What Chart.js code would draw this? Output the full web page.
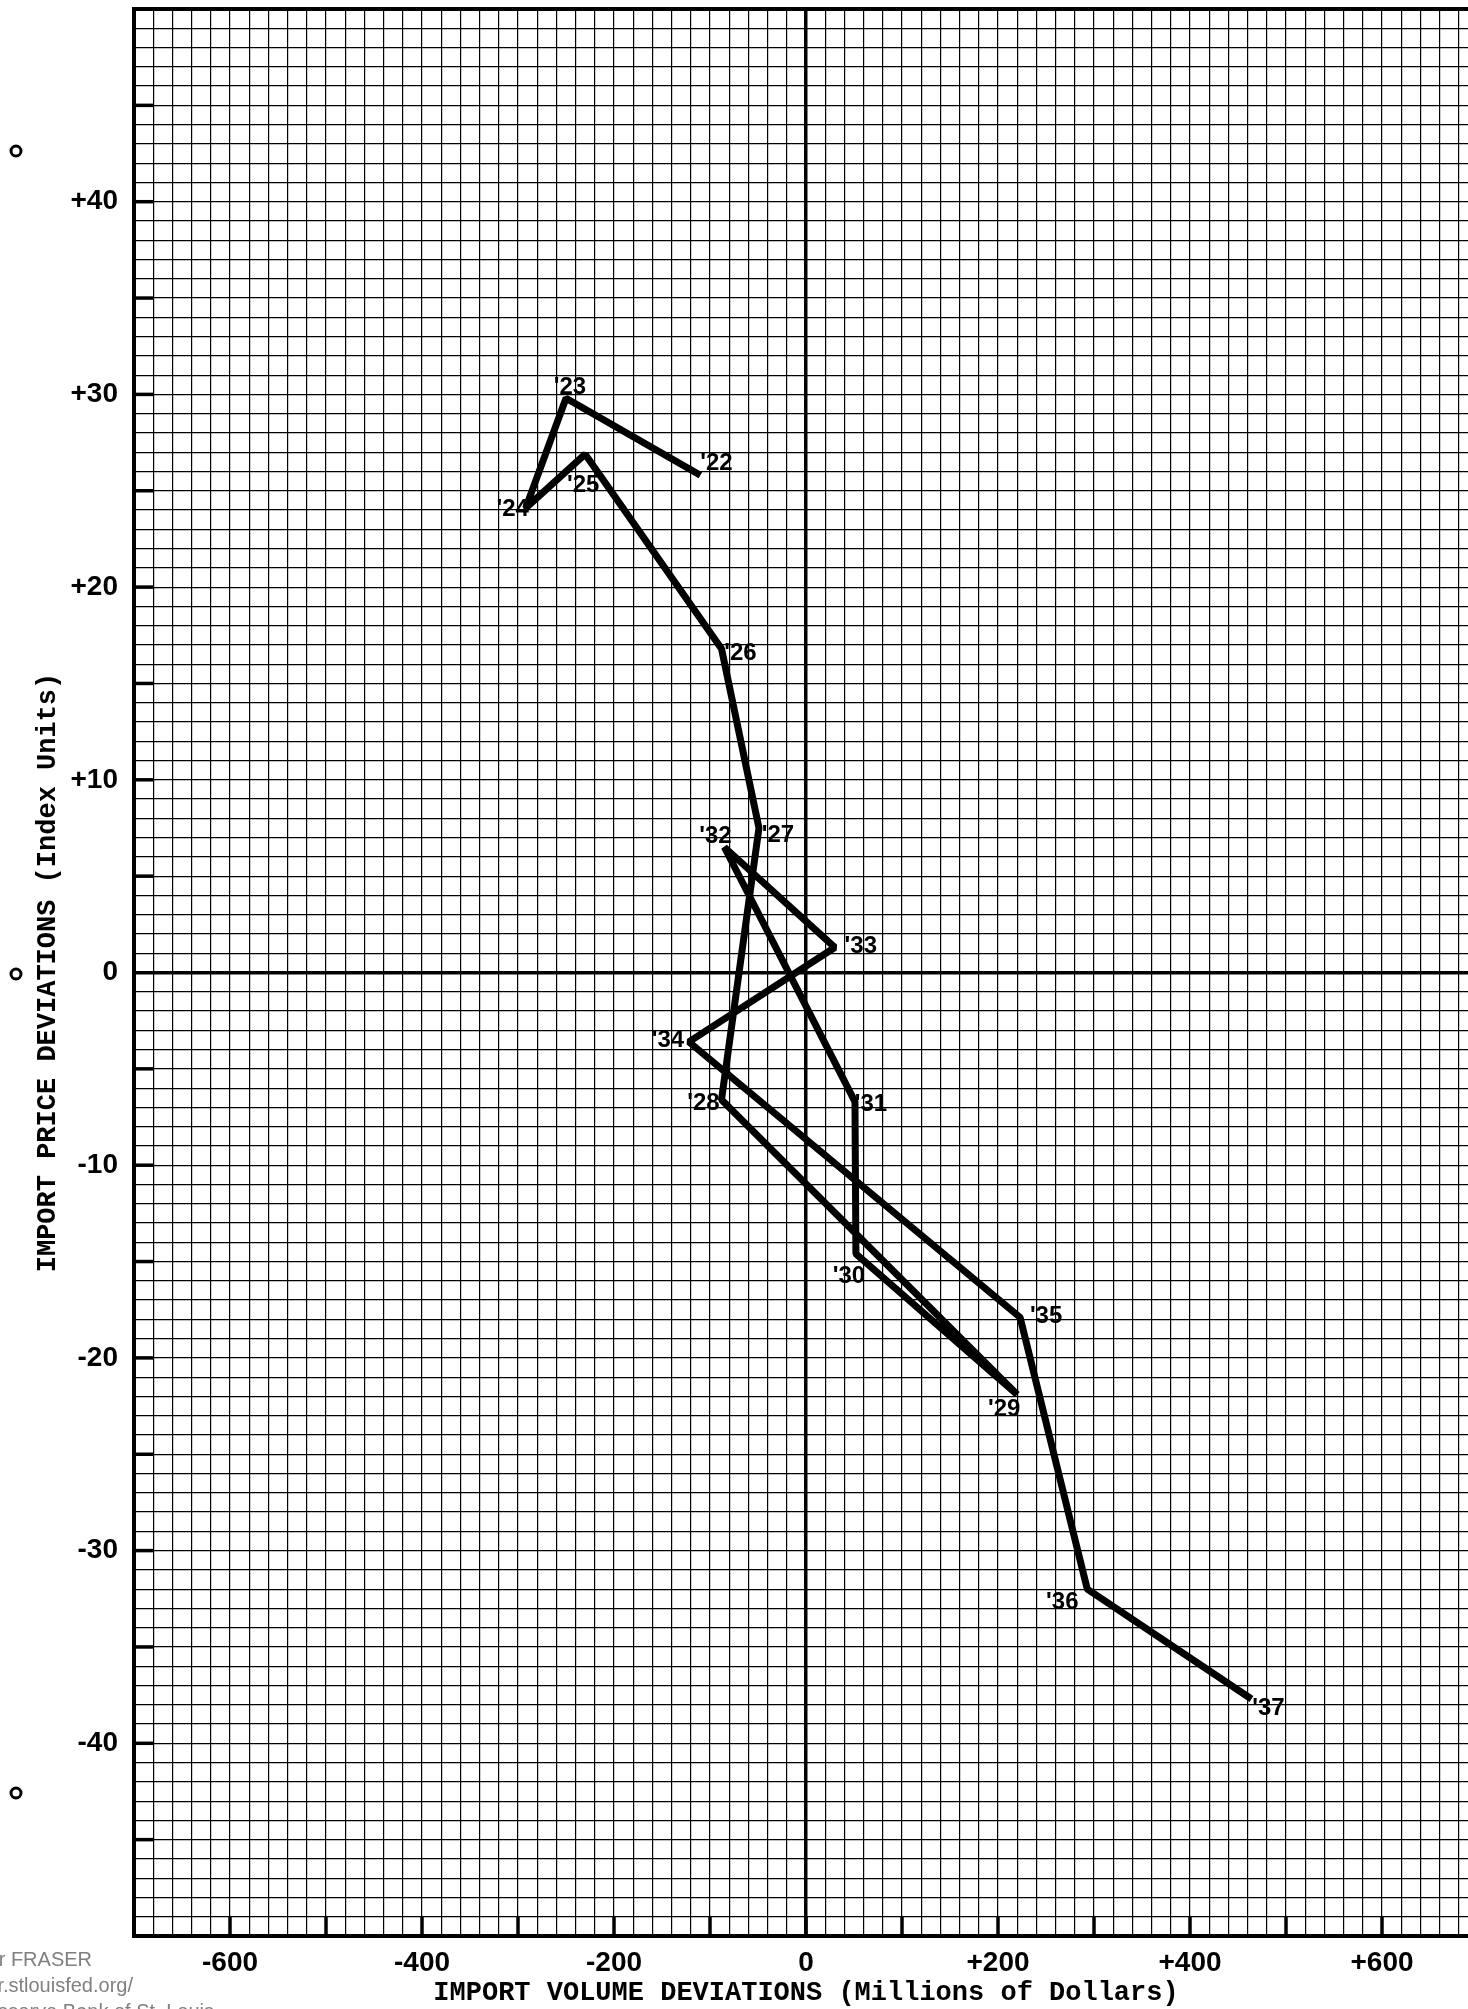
<!DOCTYPE html>
<html>
<head>
<meta charset="utf-8">
<script src="https://cdn.jsdelivr.net/npm/chart.js@4.4.0/dist/chart.umd.min.js"></script>
<style>
  html, body { margin: 0; padding: 0; background: #fff; overflow: hidden; }
  #wrap { width: 1480px; height: 2009px; }
</style>
</head>
<body>
<div id="wrap"><canvas id="chart_importDeviations" width="1480" height="2009"></canvas></div>
<script>
var years = ["'22", "'23", "'24", "'25", "'26", "'27", "'28", "'29", "'30", "'31", "'32", "'33", "'34", "'35", "'36", "'37"];
var volumeDeviations = [-110, -250, -292, -230, -88, -49, -88, 220, 52, 51, -85, 30, -122, 223, 293, 464];
var priceDeviations = [25.8, 29.8, 24.1, 26.9, 16.8, 7.5, -6.6, -21.9, -14.6, -6.7, 6.5, 1.3, -3.6, -17.9, -32.0, -37.7];

var xTickValues = [-600, -400, -200, 0, 200, 400, 600];
var xTickLabels = ['-600', '-400', '-200', '0', '+200', '+400', '+600'];
var yTickValues = [40, 30, 20, 10, 0, -10, -20, -30, -40];
var yTickLabels = ['+40', '+30', '+20', '+10', '0', '-10', '-20', '-30', '-40'];

// where each year label sits relative to its point, in px
var labelOffsets = [[16, -12], [4, -11], [-13, 1], [-2, 31], [19, 5], [19, 7], [-18, 4], [-13, 15],
                    [-7, 23], [16, 3], [-9, -11], [26, -1], [-21, -1], [26, -1], [-25, 13], [17, 9]];

var points = years.map(function(y, i) {
    return { x: volumeDeviations[i], y: priceDeviations[i] };
});

var chart_importDeviations = new Chart(document.getElementById('chart_importDeviations'), {
    type: 'scatter',
    data: {
        datasets: [
            {
                label: 'Import deviations',
                data: points,
                showLine: true,
                borderColor: '#000',
                borderWidth: 7,
                borderJoinStyle: 'bevel',
                pointRadius: 0,
                pointHoverRadius: 0
            }
        ]
    },
    options: {
        animation: false,
        responsive: false,
        layout: { padding: { left: 0, top: 9, right: 2, bottom: 0 } },
        plugins: {
            legend: { display: false },
            tooltip: { enabled: false }
        },
        scales: {
            x: {
                type: 'linear',
                min: -700,
                max: 700,
                afterFit: function(scale) {
                    scale.height = 73;
                    scale.paddingLeft = 0;
                    scale.paddingRight = 0;
                },
                border: { display: true, color: '#000', width: 4 },
                grid: {
                    color: '#000',
                    drawTicks: false,
                    lineWidth: function(ctx) { return ctx.tick && ctx.tick.value === 0 ? 3.5 : 1.2; }
                },
                ticks: {
                    stepSize: 20,
                    autoSkip: false,
                    maxRotation: 0,
                    minRotation: 0,
                    padding: 10,
                    color: '#000',
                    font: { family: 'Liberation Sans', size: 28, weight: 'bold' },
                    callback: function(value) {
                        var i = xTickValues.indexOf(value);
                        return i < 0 ? '' : xTickLabels[i];
                    }
                },
                title: {
                    display: true,
                    text: 'IMPORT VOLUME DEVIATIONS (Millions of Dollars)',
                    color: '#000',
                    padding: { top: 0, bottom: 0 },
                    font: { family: 'Liberation Mono', size: 27, weight: 'bold' }
                }
            },
            y: {
                type: 'linear',
                min: -50,
                max: 50,
                afterFit: function(scale) {
                    scale.width = 134;
                    scale.paddingTop = 0;
                    scale.paddingBottom = 0;
                },
                border: { display: true, color: '#000', width: 4 },
                grid: {
                    color: '#000',
                    drawTicks: false,
                    lineWidth: function(ctx) {
                        if (!ctx.tick) return 1.2;
                        if (ctx.tick.value === 0) return 3.5;
                        if (ctx.tick.value === 50) return 4;
                        return 1.2;
                    }
                },
                ticks: {
                    stepSize: 1,
                    autoSkip: false,
                    padding: 16,
                    color: '#000',
                    font: { family: 'Liberation Sans', size: 28, weight: 'bold' },
                    callback: function(value) {
                        var i = yTickValues.indexOf(value);
                        return i < 0 ? '' : yTickLabels[i];
                    }
                },
                title: {
                    display: true,
                    text: 'IMPORT PRICE DEVIATIONS (Index Units)',
                    color: '#000',
                    padding: { top: 32, bottom: 0 },
                    font: { family: 'Liberation Mono', size: 27, weight: 'bold' }
                }
            }
        }
    },
    plugins: [{
        id: 'graphPaper',
        beforeDraw: function(chart) {
            var ctx = chart.ctx;
            ctx.save();
            ctx.fillStyle = 'white';
            ctx.fillRect(0, 0, chart.width, chart.height);
            ctx.restore();
        },
        beforeDatasetsDraw: function(chart) {
            // heavier marks along the left and bottom edges every 5 squares
            var ctx = chart.ctx, xs = chart.scales.x, ys = chart.scales.y, area = chart.chartArea;
            ctx.save();
            ctx.strokeStyle = '#000';
            ctx.lineWidth = 3.5;
            var sq = xs.getPixelForValue(-680) - xs.getPixelForValue(-700);
            for (var v = -45; v <= 45; v += 5) {
                if (v === 0) continue;
                var py = ys.getPixelForValue(v);
                ctx.beginPath();
                ctx.moveTo(area.left, py);
                ctx.lineTo(area.left + sq, py);
                ctx.stroke();
            }
            var sqy = ys.getPixelForValue(-50) - ys.getPixelForValue(-49);
            for (var u = -600; u <= 700; u += 100) {
                var px = xs.getPixelForValue(u);
                ctx.beginPath();
                ctx.moveTo(px, area.bottom);
                ctx.lineTo(px, area.bottom - sqy);
                ctx.stroke();
            }
            ctx.restore();
        },
        afterDatasetsDraw: function(chart) {
            var ctx = chart.ctx;
            var meta = chart.getDatasetMeta(0);
            ctx.save();
            ctx.fillStyle = '#000';
            ctx.font = 'bold 24px "Liberation Sans"';
            ctx.textAlign = 'center';
            ctx.textBaseline = 'middle';
            meta.data.forEach(function(pt, i) {
                var off = labelOffsets[i];
                ctx.fillText(years[i], pt.x + off[0], pt.y + off[1]);
            });
            ctx.restore();
        },
        afterDraw: function(chart) {
            var ctx = chart.ctx;
            ctx.save();
            // punch holes along the left margin
            ctx.strokeStyle = '#000';
            ctx.lineWidth = 3;
            [151, 974, 1793].forEach(function(hy) {
                ctx.beginPath();
                ctx.arc(16, hy, 5, 0, Math.PI * 2);
                ctx.stroke();
            });
            // archive stamp, cut off at the left edge
            ctx.fillStyle = '#808080';
            ctx.font = '20px "Liberation Sans"';
            ctx.textAlign = 'right';
            ctx.textBaseline = 'middle';
            ctx.fillText('Digitized for FRASER', 92, 1960);
            ctx.fillText('http://fraser.stlouisfed.org/', 133, 1986);
            ctx.fillText('Federal Reserve Bank of St. Louis', 214, 2012);
            ctx.restore();
        }
    }]
});
</script>
</body>
</html>
